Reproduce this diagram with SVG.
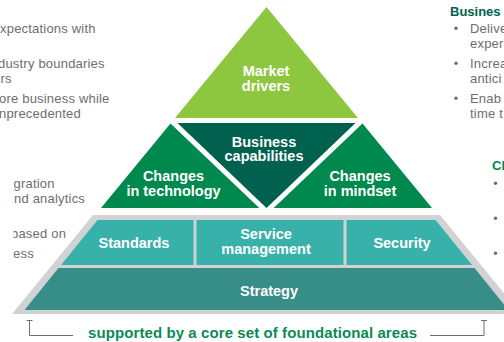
<svg xmlns="http://www.w3.org/2000/svg" width="504" height="342" viewBox="0 0 504 342">
<style>
.lbl{font-family:"Liberation Sans",Arial,sans-serif;font-weight:700;font-size:14.5px;fill:#fff;text-anchor:middle}
.body{font-family:"Liberation Sans",Arial,sans-serif;font-size:13px;letter-spacing:0.2px;fill:#6D6E71}
.hd{font-family:"Liberation Sans",Arial,sans-serif;font-weight:700;font-size:13px}
.dot{fill:#6D6E71}
.br{fill:none;stroke:#6D6E71;stroke-width:1}
</style>
<defs>
<clipPath id="lowclip"><rect x="13.5" y="170" width="100" height="100"/></clipPath>
</defs>
<rect width="504" height="342" fill="#fff"/>

<g id="left-text-top">
<text class="body" x="0" y="32.5">xpectations with</text>
<text class="body" x="-2" y="67.5">dustry boundaries</text>
<text class="body" x="0.5" y="83">rs</text>
<text class="body" x="-1" y="102.5">ore business while</text>
<text class="body" x="-1" y="118">nprecedented</text>
</g>
<g id="left-text-bottom" clip-path="url(#lowclip)">
<text class="body" x="13.5" y="187.5">gration</text>
<text class="body" x="14" y="203">nd analytics</text>
<text class="body" x="11" y="238">based on</text>
<text class="body" x="13" y="257.5">ess</text>
</g>

<g id="right-text-top">
<text class="hd" x="450" y="16" fill="#01614F">Busines</text>
<circle class="dot" cx="456" cy="28.3" r="1.7"/>
<circle class="dot" cx="456" cy="63.3" r="1.7"/>
<circle class="dot" cx="456" cy="98.3" r="1.7"/>
<text class="body" x="470" y="32.5">Delive</text>
<text class="body" x="470" y="48">exper</text>
<text class="body" x="470" y="67.5">Increa</text>
<text class="body" x="470" y="83">antici</text>
<text class="body" x="470" y="102.5">Enab</text>
<text class="body" x="470" y="118">time t</text>
</g>
<g id="right-text-bottom">
<text class="hd" x="492" y="170" fill="#00894F">Ch</text>
<circle class="dot" cx="495.5" cy="183.3" r="1.7"/>
<circle class="dot" cx="495.5" cy="218.3" r="1.7"/>
<circle class="dot" cx="495.5" cy="253.3" r="1.7"/>
</g>

<g id="base-frame">
<polygon points="93,215 440,215 521,314 12,314" fill="#D1D2D4"/>
</g>

<g id="market-drivers">
<polygon points="266.5,7 175,118 358,118" fill="#8DC63F"/>
<text class="lbl" x="266" y="76">Market</text>
<text class="lbl" x="266" y="90.5">drivers</text>
</g>
<g id="business-capabilities">
<polygon points="177.5,123 355.5,123 266.5,208" fill="#00614F"/>
<text class="lbl" x="264" y="146.5">Business</text>
<text class="lbl" x="264" y="161">capabilities</text>
</g>
<g id="changes-technology">
<polygon points="170.5,123.5 259.3,208 101,208" fill="#00894F"/>
<text class="lbl" x="173.5" y="180.5">Changes</text>
<text class="lbl" x="173.5" y="196">in technology</text>
</g>
<g id="changes-mindset">
<polygon points="362.5,123.5 432,208 273.7,208" fill="#00894F"/>
<text class="lbl" x="360" y="180.5">Changes</text>
<text class="lbl" x="360" y="196">in mindset</text>
</g>
<g id="standards">
<polygon points="97.5,220 193.5,220 193.5,265 61,265" fill="#38B1AB"/>
<text class="lbl" x="134" y="248">Standards</text>
</g>
<g id="service-management">
<polygon points="196.5,220 343.5,220 343.5,265 196.5,265" fill="#38B1AB"/>
<text class="lbl" x="266" y="239">Service</text>
<text class="lbl" x="266" y="253.5">management</text>
</g>
<g id="security">
<polygon points="346.5,220 435.5,220 472,265 346.5,265" fill="#38B1AB"/>
<text class="lbl" x="402" y="248">Security</text>
</g>
<g id="strategy">
<polygon points="58.5,268 474.5,268 508.5,310 24.5,310" fill="#378D88"/>
<text class="lbl" x="269" y="295.5">Strategy</text>
</g>

<g id="connectors">
<path class="br" d="M26.5,320.5 H32.5 M29.5,320.5 V335.5 H73"/>
<path class="br" d="M481,320.5 H487 M484,320.5 V335.5 H430"/>
</g>
<g id="footer">
<text x="88" y="337.5" textLength="329" lengthAdjust="spacing" style="font-family:'Liberation Sans',Arial,sans-serif;font-weight:700;font-size:15px;fill:#0B8A55">supported by a core set of foundational areas</text>
</g>
</svg>
